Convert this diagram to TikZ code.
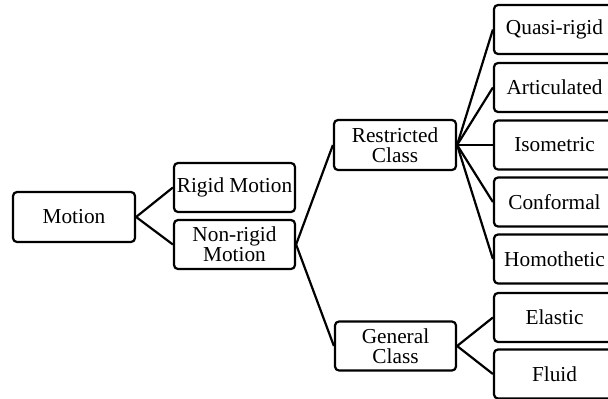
\documentclass[tikz,border=0pt]{standalone}
\usepackage{fontspec}
\setmainfont{Liberation Serif}
\begin{document}
\begin{tikzpicture}[x=1pt,y=-1pt,
  box/.style={draw,line width=2.2pt,rounded corners=4pt,minimum width=121pt,minimum height=49pt,inner sep=0pt,align=center,font=\fontsize{21.3}{20}\selectfont},
  link/.style={line width=2.2pt}]
\clip (0,0) rectangle (608,399);
\useasboundingbox (0,0) rectangle (608,399);
\node[box,minimum width=122pt,minimum height=50pt] (motion) at (74,217) {Motion};
\node[box] (rigid) at (234.5,187.5) {Rigid Motion};
\node[box] (nonrigid) at (234.5,244.5) {Non-rigid\\Motion};
\node[box,minimum width=122pt,minimum height=50pt] (restricted) at (395,145) {Restricted\\Class};
\node[box] (general) at (395.5,346) {General\\Class};
\node[box] (quasi) at (554.5,29.5) {Quasi-rigid};
\node[box] (artic) at (554.5,87.5) {Articulated};
\node[box] (iso) at (554.5,145) {Isometric};
\node[box] (conf) at (554.5,202) {Conformal};
\node[box] (homo) at (554.5,259) {Homothetic};
\node[box] (elastic) at (554.5,317.5) {Elastic};
\node[box] (fluid) at (554.5,374) {Fluid};
\draw[link] (motion.east) -- (rigid.west);
\draw[link] (motion.east) -- (nonrigid.west);
\draw[link] (nonrigid.east) -- (restricted.west);
\draw[link] (nonrigid.east) -- (general.west);
\foreach \t in {quasi,artic,iso,conf,homo}
  \draw[link] (restricted.east) -- (\t.west);
\draw[link] (general.east) -- (elastic.west);
\draw[link] (general.east) -- (fluid.west);
\end{tikzpicture}
\end{document}
